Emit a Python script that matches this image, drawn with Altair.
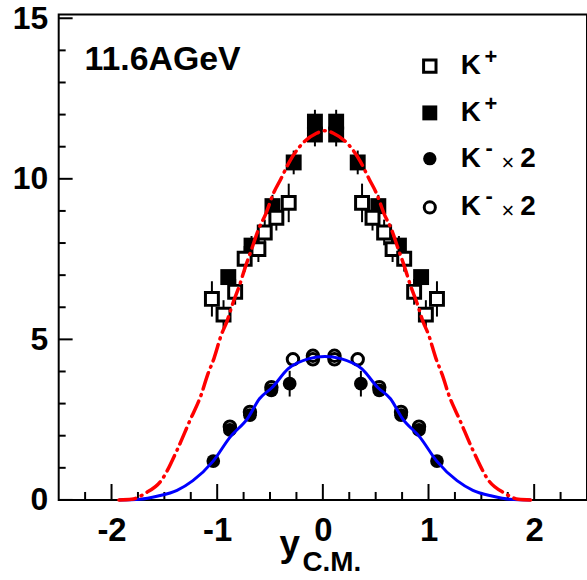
import altair as alt
import pandas as pd

# ---------------- data ----------------
# K+ filled squares
kpf_x = [-0.075, -0.075, 0.126, 0.126, -0.276, 0.33, -0.477, 0.525, -0.675, 0.72, -0.895, 0.93]
kpf_y = [11.78, 11.38, 11.78, 11.38, 10.51, 10.51, 9.15, 9.15, 7.92, 7.92, 6.94, 6.94]
# error bars of the filled squares
kpf_ex = [-0.075, 0.126, -0.276, 0.33, -0.477, 0.525, -0.675, 0.72, -0.895, 0.93]
kpf_ey = [11.58, 11.58, 10.51, 10.51, 9.15, 9.15, 7.92, 7.92, 6.94, 6.94]
kpf_ee = [0.57, 0.57, 0.37, 0.37, 0.35, 0.35, 0.3, 0.3, 0.22, 0.22]

# K+ open squares
kpo_x = [-0.323, 0.371, -0.44, 0.47, -0.55, 0.58, -0.61, 0.66, -0.74, 0.77, -0.83, 0.864, -0.94, 0.975, -1.05, 1.08]
kpo_y = [9.25, 9.25, 8.79, 8.79, 8.33, 8.33, 7.81, 7.81, 7.51, 7.51, 6.48, 6.48, 5.77, 5.77, 6.26, 6.26]
kpo_e = [0.6, 0.6, 0.4, 0.4, 0.4, 0.4, 0.4, 0.4, 0.4, 0.4, 0.4, 0.4, 0.45, 0.45, 0.55, 0.55]

# K- (x2) filled circles
kmf_x = [-1.037, 1.08, -0.88, 0.91, -0.69, 0.74, -0.487, 0.534, -0.314, 0.36]
kmf_y = [1.21, 1.21, 2.18, 2.18, 2.64, 2.64, 3.41, 3.41, 3.62, 3.62]
kmf_e = [0.1, 0.1, 0.1, 0.1, 0.1, 0.1, 0.1, 0.1, 0.4, 0.4]

# K- (x2) open circles
kmo_x = [-0.88, 0.91, -0.69, 0.74, -0.487, 0.534, -0.283, 0.33, -0.094, -0.094, 0.11, 0.11]
kmo_y = [2.28, 2.28, 2.74, 2.74, 3.51, 3.51, 4.38, 4.38, 4.49, 4.38, 4.49, 4.38]

# red dash-dotted curve
red_x = [-1.93, -1.81, -1.68, -1.53, -1.38, -1.26, -1.15, -1.09, -1.03, -0.96, -0.91, -0.85,
         -0.79, -0.73, -0.675, -0.61, -0.54, -0.47, -0.40, -0.31, -0.22, -0.06, 0.02, 0.10,
         0.26, 0.35, 0.44, 0.51, 0.58, 0.65, 0.715, 0.77, 0.83, 0.89, 0.95, 1.0, 1.07, 1.13,
         1.19, 1.30, 1.42, 1.57, 1.72, 1.85, 1.97]
red_y = [0.0, 0.02, 0.21, 0.6, 1.55, 2.46, 3.29, 3.9, 4.41, 5.15, 5.54, 6.14,
         6.67, 7.29, 7.8, 8.42, 8.91, 9.53, 9.98, 10.57, 11.0, 11.42, 11.5, 11.42,
         11.0, 10.57, 9.98, 9.53, 8.91, 8.42, 7.8, 7.29, 6.67, 6.14, 5.54, 5.15, 4.41, 3.9,
         3.29, 2.46, 1.55, 0.6, 0.21, 0.02, 0.0]

# blue solid curve
blue_x = [-1.93, -1.73, -1.56, -1.38, -1.23, -1.04, -0.88, -0.71, -0.60, -0.48, -0.33, -0.13,
          0.02, 0.17, 0.37, 0.52, 0.64, 0.75, 0.92, 1.08, 1.27, 1.42, 1.60, 1.77, 1.97]
blue_y = [0.0, 0.02, 0.12, 0.3, 0.6, 1.2, 1.95, 2.55, 3.15, 3.5, 4.08, 4.40,
          4.47, 4.40, 4.08, 3.5, 3.15, 2.55, 1.95, 1.2, 0.6, 0.3, 0.12, 0.02, 0.0]

x_major = [-2, -1, 0, 1, 2]
x_minor = [-2.25, -1.75, -1.5, -1.25, -0.75, -0.5, -0.25, 0.25, 0.5, 0.75, 1.25, 1.5, 1.75, 2.25]
y_major = [0, 5, 10, 15]
y_minor = [1, 2, 3, 4, 6, 7, 8, 9, 11, 12, 13, 14]

# ---------------- layout ----------------
W, H = 531, 488
FONT = "Liberation Sans"

xs = alt.Scale(domain=[-2.5, 2.5], nice=False, zero=False)
ys = alt.Scale(domain=[0, 15.12], nice=False, zero=False)

x_axis = alt.Axis(values=x_major, labelExpr="'' + datum.value", labelFont=FONT,
                  labelFontWeight="bold", labelFontSize=33, labelColor="black",
                  ticks=False, tickSize=0, domain=False, grid=False, labelPadding=15,
                  title=None, labelFlush=False)
y_axis = alt.Axis(values=y_major, labelExpr="'' + datum.value", labelFont=FONT,
                  labelFontWeight="bold", labelFontSize=32, labelColor="black",
                  ticks=False, tickSize=0, domain=False, grid=False, labelPadding=11,
                  title=None, labelFlush=False)

def X(field):
    return alt.X(field, type="quantitative", scale=xs, axis=x_axis)

def Y(field):
    return alt.Y(field, type="quantitative", scale=ys, axis=y_axis)

layers = []

# tick marks (inside, ROOT style)
layers.append(alt.Chart(pd.DataFrame({"v": x_major})).mark_rule(color="black", strokeWidth=2)
              .encode(x=X("v"), y=alt.value(H), y2=alt.value(H - 16)))
layers.append(alt.Chart(pd.DataFrame({"v": x_minor})).mark_rule(color="black", strokeWidth=2)
              .encode(x=X("v"), y=alt.value(H), y2=alt.value(H - 8)))
layers.append(alt.Chart(pd.DataFrame({"v": y_major})).mark_rule(color="black", strokeWidth=2)
              .encode(y=Y("v"), x=alt.value(0), x2=alt.value(14)))
layers.append(alt.Chart(pd.DataFrame({"v": y_minor})).mark_rule(color="black", strokeWidth=2)
              .encode(y=Y("v"), x=alt.value(0), x2=alt.value(7)))

# error bars
eb = pd.DataFrame({
    "x": kpf_ex + kpo_x + kmf_x,
    "lo": [a - b for a, b in zip(kpf_ey, kpf_ee)] + [a - b for a, b in zip(kpo_y, kpo_e)]
          + [a - b for a, b in zip(kmf_y, kmf_e)],
    "hi": [a + b for a, b in zip(kpf_ey, kpf_ee)] + [a + b for a, b in zip(kpo_y, kpo_e)]
          + [a + b for a, b in zip(kmf_y, kmf_e)],
})
layers.append(alt.Chart(eb).mark_rule(color="black", strokeWidth=2)
              .encode(x=X("x"), y=Y("lo"), y2="hi"))

# markers
layers.append(alt.Chart(pd.DataFrame({"x": kpf_x, "y": kpf_y}))
              .mark_point(shape="square", filled=True, color="black", size=256, opacity=1)
              .encode(x=X("x"), y=Y("y")))
layers.append(alt.Chart(pd.DataFrame({"x": kpo_x, "y": kpo_y}))
              .mark_point(shape="square", filled=True, fill="white", stroke="black",
                          strokeWidth=3, size=169, opacity=1)
              .encode(x=X("x"), y=Y("y")))
layers.append(alt.Chart(pd.DataFrame({"x": kmo_x, "y": kmo_y}))
              .mark_point(shape="circle", filled=False, stroke="black",
                          strokeWidth=3, size=133, opacity=1)
              .encode(x=X("x"), y=Y("y")))
layers.append(alt.Chart(pd.DataFrame({"x": kmf_x, "y": kmf_y}))
              .mark_point(shape="circle", filled=True, color="black", size=190, opacity=1)
              .encode(x=X("x"), y=Y("y")))

# curves
layers.append(alt.Chart(pd.DataFrame({"x": blue_x, "y": blue_y}))
              .mark_line(color="#0000ff", strokeWidth=3, interpolate="monotone")
              .encode(x=X("x"), y=Y("y")))
layers.append(alt.Chart(pd.DataFrame({"x": red_x, "y": red_y}))
              .mark_line(color="#ff0000", strokeWidth=3.5, interpolate="monotone",
                         strokeDash=[17, 6, 1, 6], strokeCap="round")
              .encode(x=X("x"), y=Y("y")))

one = pd.DataFrame({"a": [0]})

def txt(text, px, py, size, weight="bold", align="left", baseline="middle"):
    return (alt.Chart(one).mark_text(text=text, font=FONT, fontSize=size, fontWeight=weight,
                                     align=align, baseline=baseline, color="black")
            .encode(x=alt.value(px), y=alt.value(py)))

# energy label
layers.append(txt("11.6AGeV", 26, 46, 34))

# axis title y_C.M.
layers.append(txt("y", 222, 544, 37, baseline="alphabetic"))
layers.append(txt("C.M.", 245, 559, 28, baseline="alphabetic"))

# legend
LX, KX = 373, 404
rows = [52, 99, 145, 194]
layers.append(alt.Chart(one).mark_point(shape="square", filled=True, fill="white", stroke="black",
                                        strokeWidth=3, size=156, opacity=1)
              .encode(x=alt.value(LX), y=alt.value(rows[0])))
layers.append(alt.Chart(one).mark_point(shape="square", filled=True, color="black", size=225, opacity=1)
              .encode(x=alt.value(LX), y=alt.value(rows[1])))
layers.append(alt.Chart(one).mark_point(shape="circle", filled=True, color="black", size=180, opacity=1)
              .encode(x=alt.value(LX), y=alt.value(rows[2])))
layers.append(alt.Chart(one).mark_point(shape="circle", filled=False, stroke="black",
                                        strokeWidth=3, size=125, opacity=1)
              .encode(x=alt.value(LX), y=alt.value(rows[3])))
for i, r in enumerate(rows):
    layers.append(txt("K", KX, r, 28))
    if i < 2:
        layers.append(txt("+", KX + 24, r - 9, 22))
    else:
        layers.append(txt("-", KX + 25, r - 11, 22))
        layers.append(txt("\u00d7", KX + 41, r + 4, 22, weight="normal"))
        layers.append(txt("2", KX + 60, r, 28))

chart = (alt.layer(*layers)
         .properties(width=W, height=H,
                     padding={"left": 59, "top": 13, "right": 0, "bottom": 79},
                     autosize=alt.AutoSizeParams(type="none"))
         .configure(background="white",
                    view=alt.ViewConfig(stroke="black", strokeWidth=2)))

chart.save("out.html", embed_options={"renderer": "svg", "actions": False})
